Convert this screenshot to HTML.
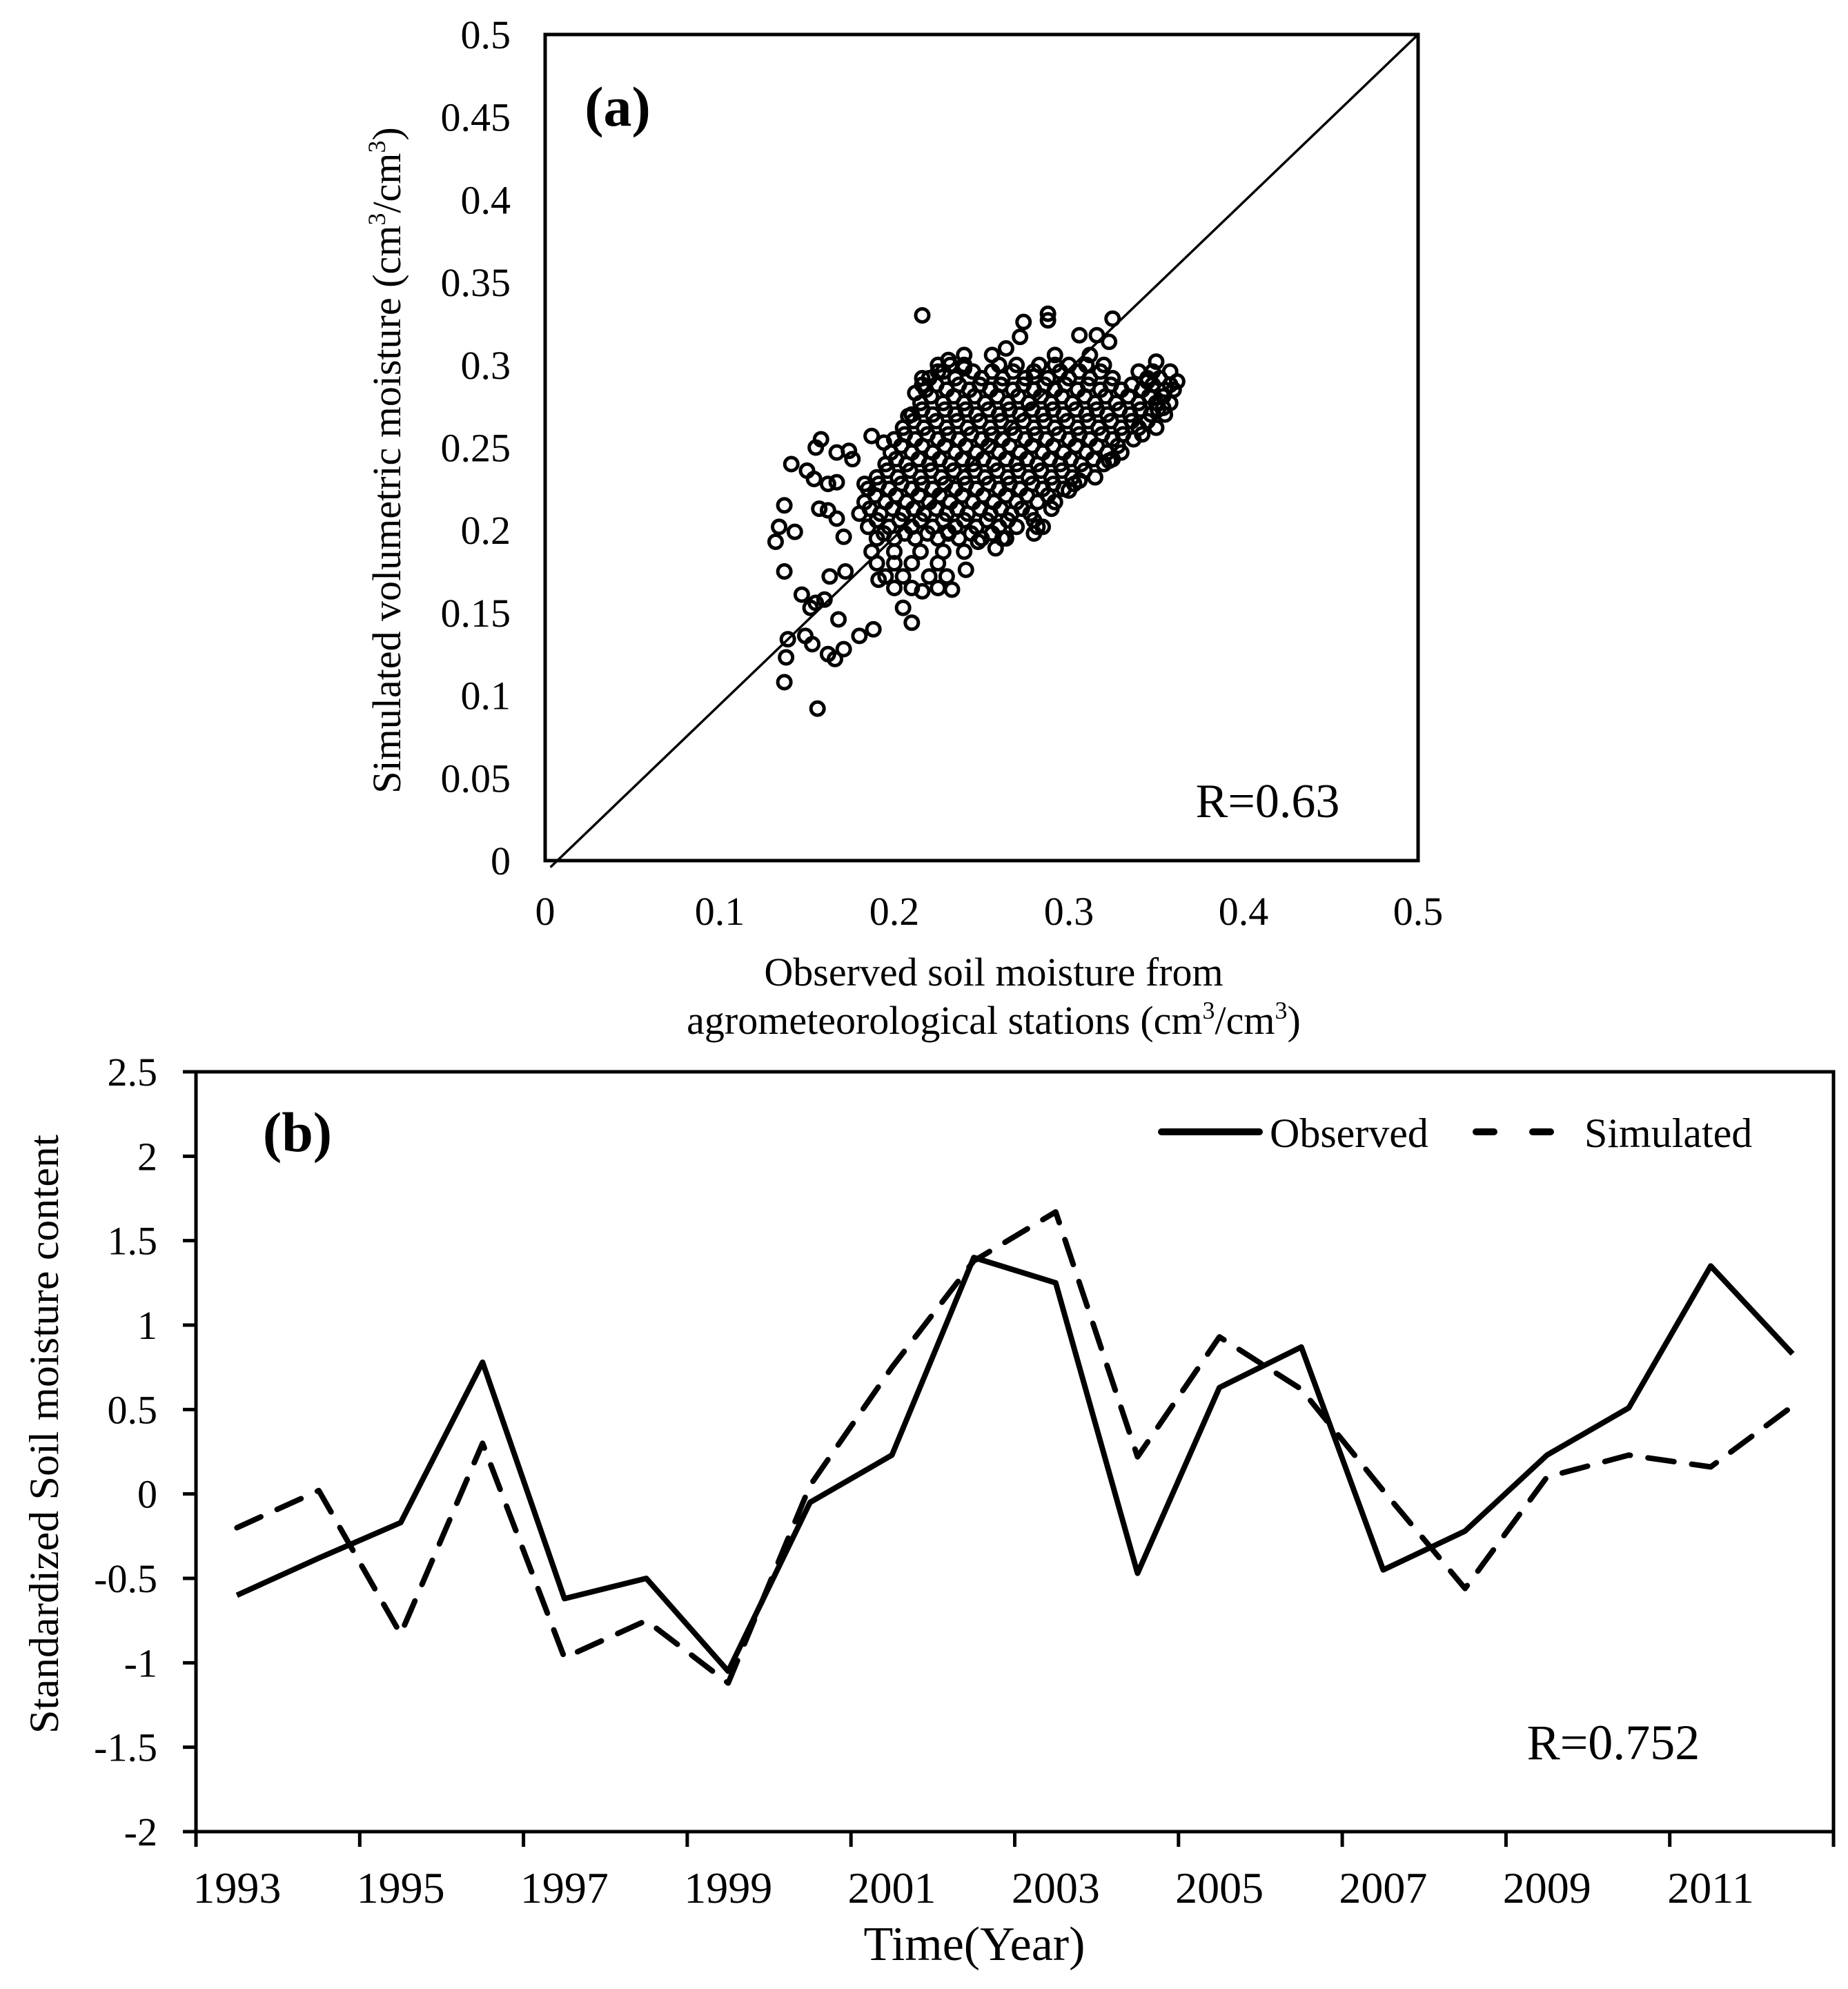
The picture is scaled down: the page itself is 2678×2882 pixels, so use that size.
<!DOCTYPE html>
<html><head><meta charset="utf-8"><style>
html,body{margin:0;padding:0;background:#fff;}
svg{display:block;font-family:"Liberation Serif",serif;}
</style></head><body>
<svg id="fig" width="2678" height="2882" viewBox="0 0 2678 2882" xmlns="http://www.w3.org/2000/svg">
<rect width="2678" height="2882" fill="#fff"/>
<g id="pa"></g>
<g id="pb"></g>
</svg>
<script>
// ---------- Panel (a) data ----------
const scatterTicks = [0, 0.05, 0.1, 0.15, 0.2, 0.25, 0.3, 0.35, 0.4, 0.45, 0.5];
const scatterXTicks = [0, 0.1, 0.2, 0.3, 0.4, 0.5];
const scatterXTickLabels = ["0", "0.1", "0.2", "0.3", "0.4", "0.5"];
const scatterYTickLabels = ["0","0.05","0.1","0.15","0.2","0.25","0.3","0.35","0.4","0.45","0.5"];
const coreRows = [
 [0.30,[0.225,0.232,0.24,0.26,0.27,0.283,0.292,0.30,0.31,0.32]],
 [0.296,[0.228,0.245,0.256,0.268,0.28,0.295,0.306,0.318,0.34,0.348]],
 [0.292,[0.22,0.235,0.25,0.262,0.275,0.288,0.30,0.312,0.325,0.345,0.352]],
 [0.288,[0.224,0.237,0.249,0.261,0.274,0.286,0.298,0.311,0.324,0.336,0.348,0.358]],
 [0.285,[0.218,0.23,0.243,0.255,0.268,0.28,0.292,0.305,0.318,0.33,0.342,0.355,0.36]],
 [0.281,[0.221,0.234,0.246,0.259,0.271,0.284,0.296,0.309,0.321,0.334,0.346,0.354]],
 [0.277,[0.215,0.228,0.24,0.252,0.265,0.277,0.29,0.302,0.315,0.327,0.34,0.35,0.358]],
 [0.273,[0.216,0.229,0.241,0.254,0.266,0.279,0.291,0.304,0.316,0.329,0.341,0.351]],
 [0.27,[0.21,0.222,0.235,0.247,0.26,0.272,0.285,0.297,0.31,0.322,0.335,0.347,0.355]],
 [0.266,[0.211,0.224,0.236,0.249,0.261,0.274,0.286,0.299,0.311,0.324,0.336,0.345]],
 [0.262,[0.205,0.217,0.23,0.242,0.255,0.267,0.28,0.292,0.305,0.317,0.33,0.34,0.35]],
 [0.258,[0.206,0.219,0.231,0.244,0.256,0.269,0.281,0.294,0.306,0.319,0.331,0.342]],
 [0.255,[0.2,0.212,0.225,0.237,0.25,0.262,0.275,0.287,0.3,0.312,0.325,0.337]],
 [0.251,[0.204,0.216,0.229,0.241,0.254,0.266,0.279,0.291,0.304,0.316,0.328]],
 [0.247,[0.198,0.21,0.222,0.235,0.247,0.26,0.272,0.285,0.297,0.31,0.322,0.33]],
 [0.243,[0.201,0.214,0.226,0.239,0.251,0.264,0.276,0.289,0.301,0.314,0.325]],
 [0.24,[0.195,0.207,0.22,0.232,0.245,0.257,0.27,0.282,0.295,0.307,0.32]],
 [0.236,[0.196,0.209,0.221,0.234,0.246,0.259,0.271,0.284,0.296,0.309]],
 [0.232,[0.19,0.202,0.215,0.227,0.24,0.252,0.265,0.277,0.29,0.302,0.315]],
 [0.228,[0.191,0.204,0.216,0.229,0.241,0.254,0.266,0.279,0.291,0.303]],
 [0.225,[0.185,0.197,0.21,0.222,0.235,0.247,0.26,0.272,0.285,0.297]],
 [0.221,[0.189,0.201,0.214,0.226,0.239,0.251,0.264,0.276,0.288]],
 [0.217,[0.183,0.195,0.207,0.22,0.232,0.245,0.257,0.27,0.282,0.292]],
 [0.213,[0.186,0.199,0.211,0.224,0.236,0.249,0.261,0.273]],
 [0.21,[0.18,0.192,0.205,0.217,0.23,0.242,0.255,0.267,0.278]],
 [0.206,[0.19,0.203,0.215,0.228,0.24,0.253,0.265,0.28]],
 [0.202,[0.185,0.197,0.21,0.222,0.235,0.247,0.26,0.27,0.285]],
 [0.198,[0.194,0.206,0.219,0.231,0.244,0.256]],
 [0.195,[0.19,0.2,0.212,0.225,0.237,0.25,0.262]],
 [0.187,[0.187,0.2,0.215,0.228,0.24]],
 [0.18,[0.19,0.2,0.21,0.225]],
 [0.172,[0.195,0.205,0.22,0.23]],
 [0.165,[0.2,0.21,0.225]]
];
const outlierX = [0.216,0.132,0.134,0.137,0.141,0.143,0.137,0.147,0.139,0.138,0.137,0.156,0.149,0.153,0.152,0.155,0.16,0.162,0.166,0.171,0.168,0.18,0.188,0.158,0.155,0.15,0.154,0.157,0.162,0.167,0.162,0.174,0.176,0.167,0.167,0.187,0.194,0.183,0.171,0.172,0.163,0.191,0.21,0.205,0.216,0.233,0.241,0.362,0.358,0.35,0.354,0.345,0.325,0.288,0.288,0.274,0.272,0.306,0.316,0.323,0.264,0.24,0.231,0.292,0.28,0.312,0.256,0.24,0.282,0.28,0.29,0.3,0.306,0.323,0.258,0.264,0.248,0.231,0.212,0.216,0.208,0.225,0.216];
const outlierY = [0.33,0.193,0.202,0.215,0.24,0.199,0.175,0.161,0.134,0.123,0.108,0.092,0.136,0.131,0.153,0.156,0.158,0.125,0.122,0.128,0.146,0.136,0.14,0.255,0.25,0.236,0.231,0.213,0.212,0.207,0.228,0.248,0.243,0.247,0.229,0.257,0.253,0.228,0.196,0.175,0.172,0.17,0.144,0.153,0.163,0.164,0.176,0.29,0.296,0.302,0.274,0.29,0.328,0.331,0.327,0.326,0.317,0.318,0.318,0.314,0.31,0.306,0.303,0.306,0.293,0.306,0.306,0.298,0.202,0.198,0.213,0.224,0.23,0.242,0.189,0.195,0.193,0.199,0.283,0.292,0.269,0.296,0.288];

// ---------- Panel (b) data ----------
const years = [1993,1994,1995,1996,1997,1998,1999,2000,2001,2002,2003,2004,2005,2006,2007,2008,2009,2010,2011,2012];
const observed = [-0.6,-0.38,-0.17,0.78,-0.62,-0.5,-1.05,-0.05,0.23,1.4,1.25,-0.47,0.63,0.87,-0.45,-0.22,0.23,0.51,1.35,0.83];
const simulated = [-0.2,0.02,-0.83,0.3,-0.97,-0.75,-1.12,0.05,0.75,1.38,1.67,0.22,0.93,0.62,0.02,-0.56,0.1,0.23,0.16,0.52];
const bYTicks = [-2,-1.5,-1,-0.5,0,0.5,1,1.5,2,2.5];
const bYTickLabels = ["-2","-1.5","-1","-0.5","0","0.5","1","1.5","2","2.5"];
const bXLabelYears = [1993,1995,1997,1999,2001,2003,2005,2007,2009,2011];

const NS="http://www.w3.org/2000/svg";
function mk(tag, attrs, parent, text){const e=document.createElementNS(NS,tag);for(const k in attrs)e.setAttribute(k,attrs[k]);if(text!==undefined)e.textContent=text;parent.appendChild(e);return e;}

// ---- Panel a ----
const pa=document.getElementById('pa');
const aL=790,aR=2055,aT=50,aB=1247;
const ax=v=>aL+(v/0.5)*(aR-aL);
const ay=v=>aB-(v/0.5)*(aB-aT);
let e;
e=mk('rect',{x:aL,y:aT,width:aR-aL,height:aB-aT,fill:'none',stroke:'#000','stroke-width':5},pa);


e=mk('line',{x1:ax(0.003),y1:ay(-0.004),x2:ax(0.5),y2:ay(0.5),stroke:'#000','stroke-width':3.5},pa);


const pts=mk('g',{fill:'none',stroke:'#000','stroke-width':5},pa);


coreRows.forEach(r=>r[1].forEach(x=>{
  const c=mk('circle',{cx:ax(x),cy:ay(r[0]),r:9.5},pts);
  
  
}));
outlierX.forEach((x,i)=>{
  const c=mk('circle',{cx:ax(x),cy:ay(outlierY[i]),r:9.5},pts);
  
  
});
scatterTicks.forEach((v,i)=>{
  const t=mk('text',{x:740,y:ay(v)+20,'text-anchor':'end','font-size':58},pa,scatterYTickLabels[i]);
  
  
});
scatterXTicks.forEach((v,i)=>{
  const t=mk('text',{x:ax(v),y:1340,'text-anchor':'middle','font-size':58},pa,scatterXTickLabels[i]);
  
  
});
e=mk('text',{x:895,y:182,'text-anchor':'middle','font-size':82,'font-weight':'bold'},pa,'(a)');


e=mk('text',{x:1837,y:1184,'text-anchor':'middle','font-size':70},pa,'R=0.63');


e=mk('text',{x:1440,y:1428,'text-anchor':'middle','font-size':58},pa,'Observed soil moisture from');


e=mk('text',{x:1440,y:1498,'text-anchor':'middle','font-size':58},pa);


e.innerHTML='agrometeorological stations (cm<tspan dy="-22" font-size="36">3</tspan><tspan dy="22">/cm</tspan><tspan dy="-22" font-size="36">3</tspan><tspan dy="22">)</tspan>';
e=mk('text',{x:0,y:0,'text-anchor':'middle','font-size':58,transform:'translate(580,667) rotate(-90)'},pa);


e.innerHTML='Simulated volumetric moisture (cm<tspan dy="-22" font-size="36">3</tspan><tspan dy="22">/cm</tspan><tspan dy="-22" font-size="36">3</tspan><tspan dy="22">)</tspan>';

// ---- Panel b ----
const pb=document.getElementById('pb');
const bL=284,bR=2657,bT=1553,bB=2654;
const catW=(bR-bL)/years.length;
const bx=i=>bL+(i+0.5)*catW;
const by=v=>bB-(v-(-2))/4.5*(bB-bT);
e=mk('path',{d:`M${bL},${bT} H${bR} V${bB} H${bL} Z`,fill:'none',stroke:'#000','stroke-width':5},pb);


bYTicks.forEach((v,i)=>{
  const l=mk('line',{x1:265,x2:bL,y1:by(v),y2:by(v),stroke:'#000','stroke-width':5},pb);
  
  
  const t=mk('text',{x:228,y:by(v)+20,'text-anchor':'end','font-size':58},pb,bYTickLabels[i]);
  
  
});
for(let k=0;k<=years.length;k+=2){
  const x=bL+k*catW;
  const l=mk('line',{x1:x,x2:x,y1:bB,y2:bB+22,stroke:'#000','stroke-width':5},pb);
  
  
}
bXLabelYears.forEach(yr=>{
  const i=years.indexOf(yr);
  const t=mk('text',{x:bx(i),y:2757,'text-anchor':'middle','font-size':64},pb,String(yr));
  
  
});
e=mk('polyline',{points:simulated.map((v,i)=>bx(i)+','+by(v)).join(' '),fill:'none',stroke:'#000','stroke-width':8,'stroke-dasharray':'38 26','stroke-linecap':'round','stroke-linejoin':'round'},pb);


e=mk('polyline',{points:observed.map((v,i)=>bx(i)+','+by(v)).join(' '),fill:'none',stroke:'#000','stroke-width':8,'stroke-linejoin':'round'},pb);


e=mk('text',{x:431,y:1668,'text-anchor':'middle','font-size':82,'font-weight':'bold'},pb,'(b)');


// legend
e=mk('line',{x1:1683,x2:1825,y1:1640,y2:1640,stroke:'#000','stroke-width':10,'stroke-linecap':'round'},pb);


e=mk('text',{x:1840,y:1662,'font-size':60},pb,'Observed');


e=mk('line',{x1:2139,x2:2253,y1:1640,y2:1640,stroke:'#000','stroke-width':10,'stroke-linecap':'round','stroke-dasharray':'26 56'},pb);


e=mk('text',{x:2296,y:1662,'font-size':60},pb,'Simulated');


e=mk('text',{x:2338,y:2549,'text-anchor':'middle','font-size':72},pb,'R=0.752');


e=mk('text',{x:1412,y:2840,'text-anchor':'middle','font-size':70},pb,'Time(Year)');


e=mk('text',{x:0,y:0,'text-anchor':'middle','font-size':60,textLength:868,lengthAdjust:'spacingAndGlyphs',transform:'translate(84,2078) rotate(-90)'},pb,'Standardized Soil moisture content');


</script>
</body></html>
